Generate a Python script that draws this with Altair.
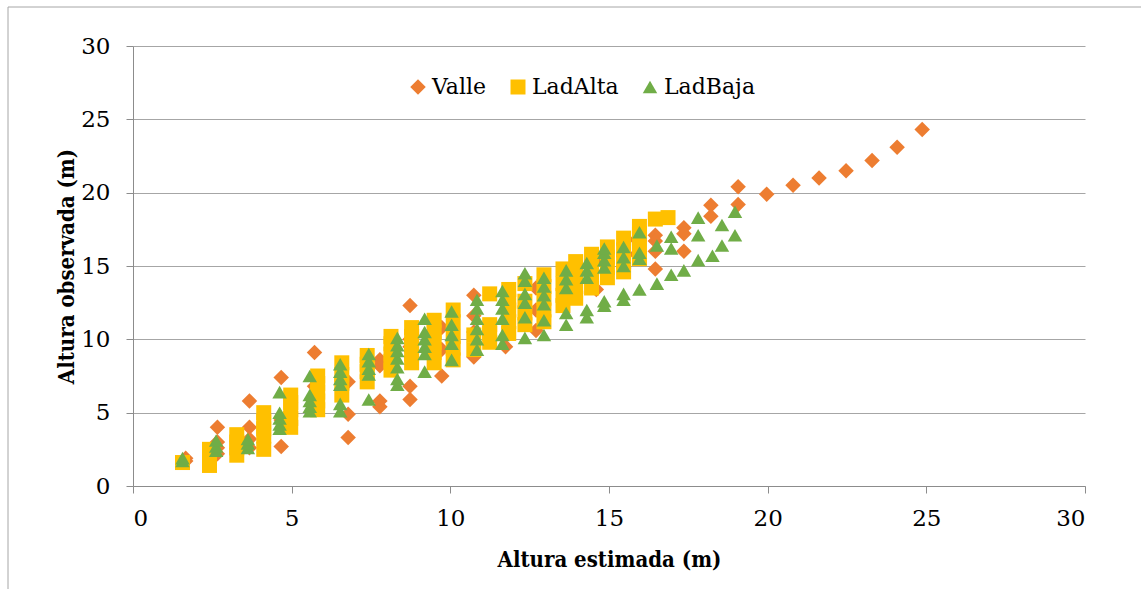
import altair as alt
import pandas as pd

# ---------------- data ----------------
series_names = ["Valle", "LadAlta", "LadBaja"]
series_colors = ["#ED7D31", "#FFC000", "#70AD47"]
series_shapes = ["diamond", "square", "triangle-up"]
series_sizes = [240, 210, 260]

valle_x = [1.66, 1.66,
           2.66, 2.66, 2.66, 2.66,
           3.67, 3.67, 3.67, 3.67,
           4.67, 4.67, 4.67,
           5.72, 5.72, 5.72,
           6.78, 6.78, 6.78,
           7.78, 7.78, 7.78, 7.78,
           8.73, 8.73, 8.73, 8.73, 8.73,
           9.73, 9.73, 9.73,
           10.74, 10.74, 10.74, 10.74,
           11.74, 11.74,
           12.7, 12.7, 12.7,
           13.7, 13.7,
           14.6, 14.6,
           15.55, 15.55,
           16.46, 16.46, 16.46, 16.46,
           17.36, 17.36, 17.36,
           18.21, 18.21,
           19.07, 19.07,
           19.97, 20.8, 21.62, 22.47, 23.29, 24.08, 24.87]
valle_y = [1.7, 1.9,
           4.0, 3.0, 2.6, 2.2,
           5.8, 4.0, 3.2, 2.6,
           7.4, 4.5, 2.7,
           9.1, 6.8, 5.7,
           7.1, 4.9, 3.3,
           8.6, 8.2, 5.8, 5.4,
           12.3, 10.0, 9.5, 6.8, 5.9,
           10.8, 9.3, 7.5,
           13.0, 11.6, 10.5, 8.8,
           12.5, 9.5,
           13.5, 12.0, 10.6,
           14.5, 12.8,
           15.5, 13.4,
           16.8, 15.8,
           17.1, 16.7, 16.0, 14.8,
           17.6, 17.2, 16.0,
           19.15, 18.4,
           20.4, 19.2,
           19.9, 20.5, 21.0, 21.5, 22.2, 23.1, 24.3]

ladalta_x = [1.56,
             2.41, 2.41, 2.41, 2.41,
             3.27, 3.27, 3.27, 3.27,
             4.12, 4.12, 4.12, 4.12, 4.12,
             4.97, 4.97, 4.97, 4.97, 4.97,
             5.82, 5.82, 5.82, 5.82, 5.82,
             6.58, 6.58, 6.58, 6.58,
             7.38, 7.38, 7.38, 7.38,
             8.13, 8.13, 8.13, 8.13, 8.13,
             8.78, 8.78, 8.78, 8.78, 8.78,
             9.49, 9.49, 9.49, 9.49, 9.49,
             10.09, 10.09, 10.09, 10.09, 10.09,
             10.74, 10.74,
             11.24, 11.24, 11.24, 11.24,
             11.84, 11.84, 11.84, 11.84, 11.84,
             12.35, 12.35, 12.35, 12.35,
             12.95, 12.95, 12.95, 12.95, 12.95,
             13.55, 13.55, 13.55, 13.55,
             13.95, 13.95, 13.95, 13.95,
             14.45, 14.45, 14.45, 14.45,
             14.95, 14.95, 14.95, 14.95,
             15.46, 15.46, 15.46, 15.46,
             15.96, 15.96, 15.96, 15.96,
             16.46, 16.86]
ladalta_y = [1.6,
             1.4, 1.8, 2.2, 2.5,
             2.1, 2.6, 3.0, 3.5,
             2.5, 3.4, 3.9, 4.4, 5.0,
             4.0, 4.6, 5.2, 5.7, 6.2,
             5.2, 5.8, 6.4, 7.0, 7.5,
             6.2, 7.0, 7.6, 8.4,
             7.1, 7.8, 8.3, 8.9,
             7.9, 8.5, 9.0, 9.7, 10.2,
             8.4, 9.0, 9.6, 10.2, 10.8,
             8.4, 9.1, 9.8, 10.5, 11.3,
             8.6, 9.4, 10.2, 11.2, 12.0,
             9.3, 10.3,
             9.8, 10.4, 11.0, 13.1,
             10.4, 11.2, 12.0, 12.6, 13.4,
             11.0, 11.8, 12.6, 13.8,
             11.2, 12.0, 12.8, 13.6, 14.4,
             12.3, 13.0, 13.8, 14.8,
             12.8, 13.6, 14.4, 15.3,
             13.5, 14.3, 15.0, 15.8,
             14.2, 14.9, 15.6, 16.3,
             14.6, 15.3, 16.1, 16.9,
             15.5, 16.3, 17.2, 17.7,
             18.2, 18.3]

ladbaja_x = [1.56, 1.56,
             2.62, 2.62, 2.62,
             3.62, 3.62, 3.62,
             4.62, 4.62, 4.62, 4.62, 4.62,
             5.57, 5.57, 5.57, 5.57, 5.57,
             6.53, 6.53, 6.53, 6.53, 6.53, 6.53,
             7.43, 7.43, 7.43, 7.43, 7.43,
             8.33, 8.33, 8.33, 8.33, 8.33, 8.33, 8.33,
             9.19, 9.19, 9.19, 9.19, 9.19, 9.19,
             10.04, 10.04, 10.04, 10.04, 10.04,
             10.84, 10.84, 10.84, 10.84, 10.84, 10.84,
             11.64, 11.64, 11.64, 11.64, 11.64, 11.64,
             12.35, 12.35, 12.35, 12.35, 12.35, 12.35,
             12.95, 12.95, 12.95, 12.95, 12.95, 12.95,
             13.65, 13.65, 13.65, 13.65, 13.65,
             14.3, 14.3, 14.3, 14.3, 14.3,
             14.85, 14.85, 14.85, 14.85, 14.85, 14.85,
             15.46, 15.46, 15.46, 15.46, 15.46,
             15.96, 15.96, 15.96, 15.96,
             16.51, 16.51,
             16.96, 16.96, 16.96,
             17.36,
             17.81, 17.81, 17.81,
             18.26,
             18.56, 18.56,
             18.97, 18.97]
ladbaja_y = [1.7, 1.9,
             2.4, 2.7, 3.1,
             2.6, 2.9, 3.2,
             3.9, 4.2, 4.6, 5.0, 6.4,
             5.1, 5.4, 5.8, 6.2, 7.5,
             5.1, 5.6, 6.9, 7.3, 7.8, 8.3,
             5.9, 7.6, 8.0, 8.5, 9.0,
             6.9, 7.3, 8.1, 8.7, 9.2, 9.6, 10.1,
             7.8, 9.0, 9.5, 10.0, 10.5, 11.4,
             8.6, 9.7, 10.3, 11.0, 11.9,
             9.3, 10.0, 10.7, 11.4, 12.1, 12.7,
             9.7, 10.3, 11.4, 12.1, 12.7, 13.3,
             10.1, 11.5, 12.5, 13.1, 14.0, 14.5,
             10.3, 11.3, 12.4, 13.0, 13.6, 14.2,
             11.0, 11.8, 13.5, 14.1, 14.7,
             11.5, 12.0, 14.2, 14.7, 15.2,
             12.3, 12.6, 14.9, 15.4, 15.9, 16.2,
             12.7, 13.1, 15.0, 15.6, 16.3,
             13.4, 15.5, 15.9, 17.3,
             13.8, 16.4,
             14.4, 16.2, 17.0,
             14.7,
             15.4, 17.1, 18.3,
             15.7,
             16.4, 17.8,
             17.1, 18.7]

axis_ticks = [0, 5, 10, 15, 20, 25, 30]

# ---------------- table ----------------
rows = []
for name, xs, ys in [("Valle", valle_x, valle_y),
                     ("LadAlta", ladalta_x, ladalta_y),
                     ("LadBaja", ladbaja_x, ladbaja_y)]:
    for xv, yv in zip(xs, ys):
        rows.append({"serie": name, "est": xv, "obs": yv})
df = pd.DataFrame(rows)
df["orden"] = df["serie"].map({n: i for i, n in enumerate(series_names)})

LABEL_FONT = "DejaVu Serif"
TITLE_FONT = "'DejaVu Serif Condensed', 'DejaVu Serif'"
AXIS_GREY = "#8C8C8C"
GRID_GREY = "#A6A6A6"

legend_kw = dict(title=None, orient="none", direction="horizontal",
                 legendX=274, legendY=30)

points = alt.Chart(df).mark_point(filled=True, opacity=1, strokeWidth=0).encode(
    x=alt.X("est:Q",
            scale=alt.Scale(domain=[0, 30], nice=False),
            axis=alt.Axis(title="Altura estimada (m)", values=axis_ticks, grid=False,
                          tickSize=7, labelPadding=14, titleY=80,
                          titleBaseline="alphabetic")),
    y=alt.Y("obs:Q",
            scale=alt.Scale(domain=[0, 30], nice=False),
            axis=alt.Axis(title="Altura observada (m)", values=axis_ticks, grid=True,
                          tickSize=7, labelPadding=16, titleX=-60,
                          titleBaseline="alphabetic")),
    color=alt.Color("serie:N",
                    scale=alt.Scale(domain=series_names, range=series_colors),
                    legend=alt.Legend(**legend_kw)),
    shape=alt.Shape("serie:N",
                    scale=alt.Scale(domain=series_names, range=series_shapes),
                    legend=alt.Legend(**legend_kw)),
    size=alt.Size("serie:N",
                  scale=alt.Scale(domain=series_names, range=series_sizes),
                  legend=None),
    order=alt.Order("orden:Q"),
)

frame = alt.Chart(pd.DataFrame({"k": [0]}))
frame_top = frame.mark_rule(color="#A6A6A6", strokeWidth=1).encode(
    x=alt.value(-125), x2=alt.value(1100), y=alt.value(-39))
frame_left = frame.mark_rule(color="#A6A6A6", strokeWidth=1).encode(
    x=alt.value(-125), y=alt.value(-39), y2=alt.value(600))

chart = alt.layer(frame_top, frame_left, points).properties(
    width=952, height=440,
    autosize=alt.AutoSizeParams(type="none"),
    padding={"left": 133, "top": 46, "right": 56, "bottom": 103},
    background="white",
).configure_view(
    stroke="transparent"
).configure_axis(
    labelFont=LABEL_FONT, labelFontSize=23, labelColor="black",
    titleFont=TITLE_FONT, titleFontSize=22, titleFontWeight="bold", titleColor="black",
    domainColor=AXIS_GREY, tickColor=AXIS_GREY, gridColor=GRID_GREY,
    domainWidth=1, tickWidth=1, gridWidth=1,
).configure_legend(
    labelFont=LABEL_FONT, labelFontSize=22, labelColor="black",
    symbolSize=200, symbolStrokeWidth=0, symbolOpacity=1,
    labelOffset=3, columnPadding=20, padding=0,
)

chart.save("out.html", embed_options={"renderer": "svg", "actions": False})
